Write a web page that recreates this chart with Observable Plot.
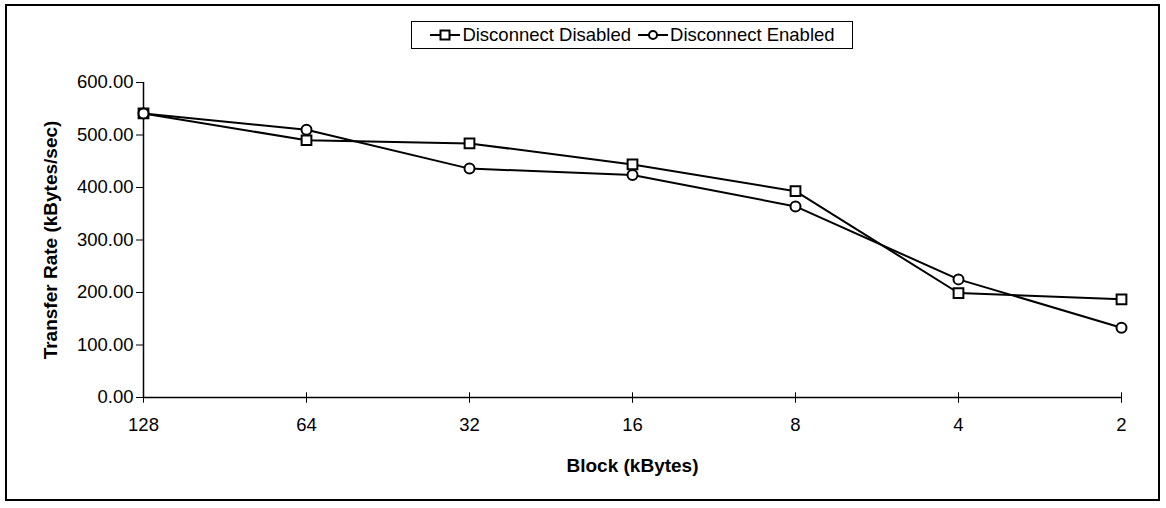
<!DOCTYPE html>
<html>
<head>
<meta charset="utf-8">
<script src="https://cdn.jsdelivr.net/npm/d3@7"></script>
<script src="https://cdn.jsdelivr.net/npm/@observablehq/plot@0.6"></script>
<style>
  html, body { margin: 0; padding: 0; background: #fff; }
  #wrap { position: relative; width: 1166px; height: 508px; font-family: "Liberation Sans", Arial, sans-serif; }
  #frame { position: absolute; left: 5px; top: 4px; width: 1151px; height: 493px; border: 2.5px solid #000; pointer-events: none; }
  #legend { position: absolute; left: 411px; top: 21px; width: 440px; height: 26px; border: 1px solid #000; background: #fff;
            display: flex; align-items: center; justify-content: center; gap: 6px; font-size: 18.5px; color: #000; }
  #legend .item { display: flex; align-items: center; gap: 1px; }
  #chart { position: absolute; left: 0; top: 0; }
</style>
</head>
<body>
<div id="wrap">
  <div id="chart"></div>
  <div id="legend"></div>
  <div id="frame"></div>
</div>
<script>
const blocks = ["128", "64", "32", "16", "8", "4", "2"];
const disabled = [541, 490, 484, 444, 393, 199, 187];
const enabled = [541, 510, 436, 424, 364, 225, 133];
const seriesNames = ["Disconnect Disabled", "Disconnect Enabled"];
const yTicks = [0, 100, 200, 300, 400, 500, 600];

const rows = [];
blocks.forEach((b, i) => {
  rows.push({block: b, value: disabled[i], series: seriesNames[0]});
  rows.push({block: b, value: enabled[i], series: seriesNames[1]});
});
const dis = rows.filter(d => d.series === seriesNames[0]);
const en = rows.filter(d => d.series === seriesNames[1]);

const plot = Plot.plot({
  width: 1166,
  height: 508,
  marginLeft: 143,
  marginRight: 45,
  marginTop: 82,
  marginBottom: 111,
  style: {fontFamily: "'Liberation Sans', Arial, sans-serif", fontSize: "18px", color: "#000", background: "transparent"},
  x: {type: "point", domain: blocks, padding: 0},
  y: {domain: [0, 600]},
  marks: [
    Plot.axisY({ticks: yTicks, tickFormat: d3.format(".2f"), tickSize: 7, tickPadding: 3, fontSize: 18.5,
      label: "Transfer Rate (kBytes/sec)", labelAnchor: "center", labelArrow: "none", labelOffset: 100}),
    Plot.axisX({tickSize: 0, tickPadding: 20, fontSize: 18.5,
      label: "Block (kBytes)", labelAnchor: "center", labelArrow: "none", labelOffset: 74}),
    Plot.ruleY([0], {stroke: "#000", strokeWidth: 1.5}),
    Plot.ruleX([blocks[0]], {stroke: "#000", strokeWidth: 1.5}),
    Plot.ruleX(blocks, {x: d => d, y1: -11, y2: 9, stroke: "#000", strokeWidth: 1}),
    Plot.line(dis, {x: "block", y: "value", stroke: "#000", strokeWidth: 2}),
    Plot.line(en, {x: "block", y: "value", stroke: "#000", strokeWidth: 2}),
    Plot.dot(dis, {x: "block", y: "value", symbol: "square", r: 5.5, fill: "#fff", stroke: "#000", strokeWidth: 2}),
    Plot.dot(en, {x: "block", y: "value", symbol: "circle", r: 5, fill: "#fff", stroke: "#000", strokeWidth: 2})
  ]
});
plot.querySelectorAll("[aria-label='y-axis label'] text, [aria-label='x-axis label'] text").forEach(t => {
  t.setAttribute("font-weight", "bold");
  t.setAttribute("font-size", "19px");
});
document.getElementById("chart").appendChild(plot);

// legend
const legend = document.getElementById("legend");
const symbols = ["square", "circle"];
seriesNames.forEach((name, i) => {
  const item = document.createElement("span");
  item.className = "item";
  const ns = "http://www.w3.org/2000/svg";
  const svg = document.createElementNS(ns, "svg");
  svg.setAttribute("width", 32); svg.setAttribute("height", 14);
  const line = document.createElementNS(ns, "line");
  line.setAttribute("x1", 1); line.setAttribute("x2", 31); line.setAttribute("y1", 7); line.setAttribute("y2", 7);
  line.setAttribute("stroke", "#000"); line.setAttribute("stroke-width", 2);
  svg.appendChild(line);
  let m;
  if (symbols[i] === "square") {
    m = document.createElementNS(ns, "rect");
    m.setAttribute("x", 11.5); m.setAttribute("y", 2.5); m.setAttribute("width", 9); m.setAttribute("height", 9);
  } else {
    m = document.createElementNS(ns, "circle");
    m.setAttribute("cx", 16); m.setAttribute("cy", 7); m.setAttribute("r", 4);
  }
  m.setAttribute("fill", "#fff"); m.setAttribute("stroke", "#000"); m.setAttribute("stroke-width", 2);
  svg.appendChild(m);
  item.appendChild(svg);
  const label = document.createElement("span");
  label.textContent = name;
  item.appendChild(label);
  legend.appendChild(item);
});
</script>
</body>
</html>
